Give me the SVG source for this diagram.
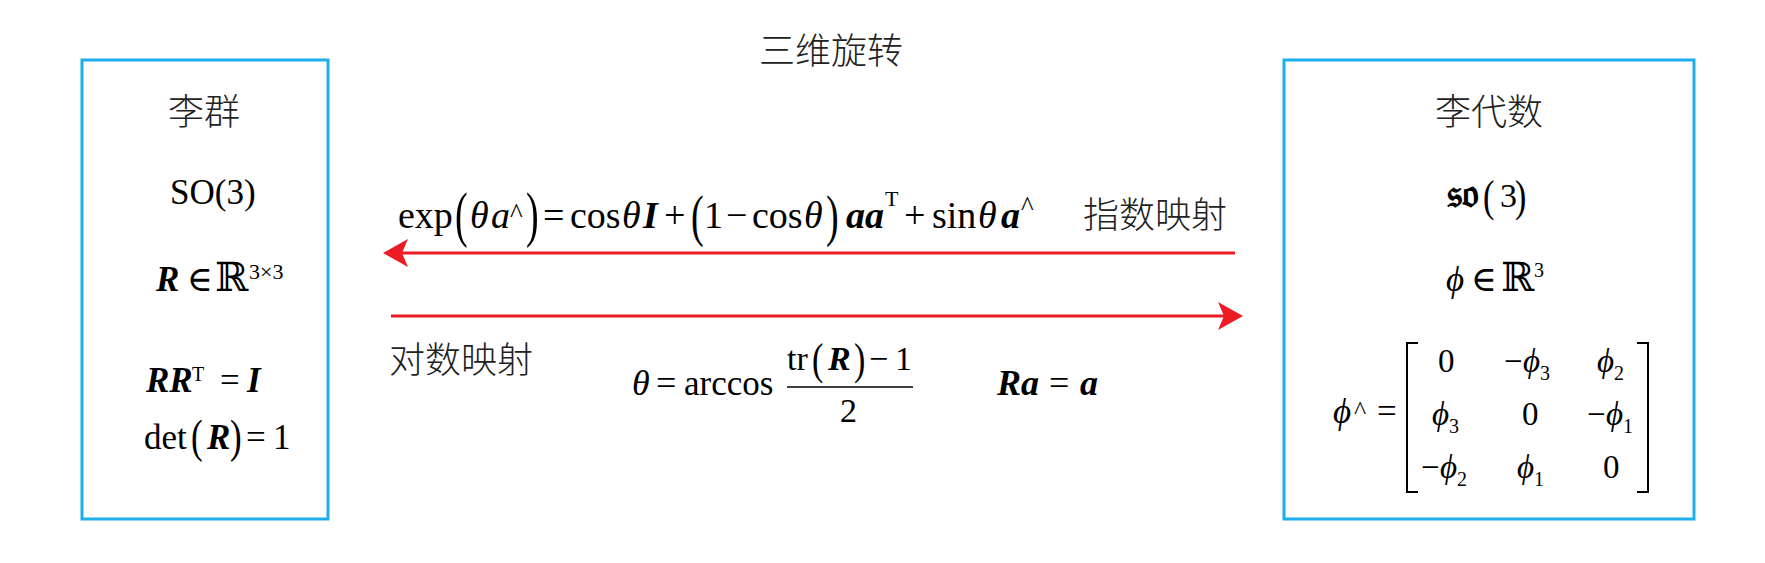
<svg xmlns="http://www.w3.org/2000/svg" width="1765" height="563" viewBox="0 0 1765 563">
<style>
.box{fill:none;stroke:#1eaeec;stroke-width:3}
.cjk{font-family:"Noto Sans CJK SC","Noto Sans CJK TC",sans-serif;font-size:36px;fill:#222;font-weight:300}
.m{font-family:"Liberation Serif","DejaVu Serif",serif;fill:#000}
.i{font-style:italic}
.b{font-style:italic;font-weight:bold}
.bb{font-family:"DejaVu Serif","DejaVu Sans",serif}
.arrow{fill:none;stroke:#ed1c24;stroke-width:3}
.bracket{fill:none;stroke:#000;stroke-width:2}
</style>
<defs>
<marker id="ah" viewBox="0 0 25 28" refX="13" refY="14" markerWidth="25" markerHeight="28" markerUnits="userSpaceOnUse" orient="auto">
<path d="M0,0 L25,14 L0,28 L6,14 Z" fill="#ed1c24"/>
</marker>
</defs>
<rect width="1765" height="563" fill="#fff"/>

<g id="title">
<text class="cjk" x="831" y="64" text-anchor="middle">三维旋转</text>
</g>

<g id="lie-group">
<rect class="box" x="82" y="60" width="246" height="459"/>
<text class="cjk" x="204" y="125" text-anchor="middle">李群</text>
<text class="m" font-size="35" x="170" y="204">SO(3)</text>
<text class="m" font-size="35" y="291"><tspan class="b" x="156">R</tspan><tspan x="187">∈</tspan><tspan class="bb" x="215" font-size="40">ℝ</tspan><tspan x="249" y="279" font-size="22">3×3</tspan></text>
<text class="m" font-size="35" y="392"><tspan class="b" x="146">RR</tspan><tspan x="192" y="381" font-size="20">T</tspan><tspan x="220" y="392">=</tspan><tspan class="b" x="247">I</tspan></text>
<text class="m" font-size="35" y="449"><tspan x="144">det</tspan><tspan class="b" x="207">R</tspan><tspan x="246">=</tspan><tspan x="273">1</tspan></text>
<text class="m" font-size="35" transform="translate(191,452) scale(1,1.3)">(</text>
<text class="m" font-size="35" transform="translate(230,452) scale(1,1.3)">)</text>
</g>

<g id="lie-algebra">
<rect class="box" x="1284" y="60" width="410" height="459"/>
<text class="cjk" x="1489" y="125" text-anchor="middle">李代数</text>
<text class="m" y="207"><tspan class="bb" x="1447" font-size="40" font-weight="bold">𝔰𝔬</tspan><tspan x="1500" font-size="34">3</tspan></text>
<text class="m" font-size="34" transform="translate(1483,211) scale(1,1.3)">(</text>
<text class="m" font-size="34" transform="translate(1515,211) scale(1,1.3)">)</text>
<text class="m" font-size="35" y="291"><tspan class="i" x="1446">ϕ</tspan><tspan x="1471">∈</tspan><tspan class="bb" x="1501" font-size="40">ℝ</tspan><tspan x="1534" y="277" font-size="20">3</tspan></text>
<text class="m" font-size="35" y="423"><tspan class="i" x="1333">ϕ</tspan><tspan x="1354" y="419" font-size="26">^</tspan><tspan x="1377" y="423">=</tspan></text>
<path class="bracket" d="M1418,343 H1407 V492 H1418 M1637,343 H1648 V492 H1637"/>
<g class="m" font-size="33">
<text x="1438" y="372">0</text>
<text y="372"><tspan x="1504">−</tspan><tspan class="i" x="1523">ϕ</tspan><tspan x="1540" y="380" font-size="20">3</tspan></text>
<text y="372"><tspan class="i" x="1597">ϕ</tspan><tspan x="1614" y="380" font-size="20">2</tspan></text>
<text y="425"><tspan class="i" x="1432">ϕ</tspan><tspan x="1449" y="433" font-size="20">3</tspan></text>
<text x="1522" y="425">0</text>
<text y="425"><tspan x="1587">−</tspan><tspan class="i" x="1606">ϕ</tspan><tspan x="1623" y="433" font-size="20">1</tspan></text>
<text y="478"><tspan x="1421">−</tspan><tspan class="i" x="1440">ϕ</tspan><tspan x="1457" y="486" font-size="20">2</tspan></text>
<text y="478"><tspan class="i" x="1517">ϕ</tspan><tspan x="1534" y="486" font-size="20">1</tspan></text>
<text x="1603" y="478">0</text>
</g>
</g>

<g id="connectors">
<path id="exp-map" class="arrow" d="M1235,253 H395" marker-end="url(#ah)"/>
<path id="log-map" class="arrow" d="M391,316 H1231" marker-end="url(#ah)"/>
<text class="cjk" x="1083" y="228">指数映射</text>
<text class="cjk" x="389" y="373">对数映射</text>
<g id="exp-formula" class="m" font-size="38">
<text y="228"><tspan x="398">exp</tspan><tspan class="i" x="470">θ</tspan><tspan class="i" x="491">a</tspan><tspan x="510" y="222" font-size="27">^</tspan><tspan x="543" y="228">=</tspan><tspan x="570">cos</tspan><tspan class="i" x="622">θ</tspan><tspan class="b" x="643">I</tspan><tspan x="664">+</tspan><tspan x="704">1</tspan><tspan x="726">−</tspan><tspan x="752">cos</tspan><tspan class="i" x="804">θ</tspan><tspan class="b" x="846">aa</tspan><tspan x="885" y="206" font-size="22">T</tspan><tspan x="904" y="228">+</tspan><tspan x="932">sin</tspan><tspan class="i" x="978">θ</tspan><tspan class="b" x="1001">a</tspan><tspan x="1021" y="215" font-size="27">^</tspan></text>
<text transform="translate(455,235) scale(1,1.6)">(</text>
<text transform="translate(526,235) scale(1,1.6)">)</text>
<text transform="translate(691,235) scale(1,1.5)">(</text>
<text transform="translate(826,235) scale(1,1.5)">)</text>
</g>
<g id="log-formula" class="m">
<text y="395" font-size="36"><tspan class="i" x="632">θ</tspan><tspan x="656">=</tspan><tspan x="684" font-size="35">arccos</tspan></text>
<text y="370" font-size="34"><tspan x="787">tr</tspan><tspan class="b" x="828">R</tspan><tspan x="869">−</tspan><tspan x="895">1</tspan></text>
<text font-size="34" transform="translate(812,374) scale(1,1.3)">(</text>
<text font-size="34" transform="translate(854,374) scale(1,1.3)">)</text>
<line x1="787" y1="387" x2="913" y2="387" stroke="#000" stroke-width="1.5"/>
<text x="840" y="422" font-size="34">2</text>
<text y="395" font-size="36"><tspan class="b" x="997">Ra</tspan><tspan x="1049">=</tspan><tspan class="b" x="1080">a</tspan></text>
</g>
</g>
</svg>
